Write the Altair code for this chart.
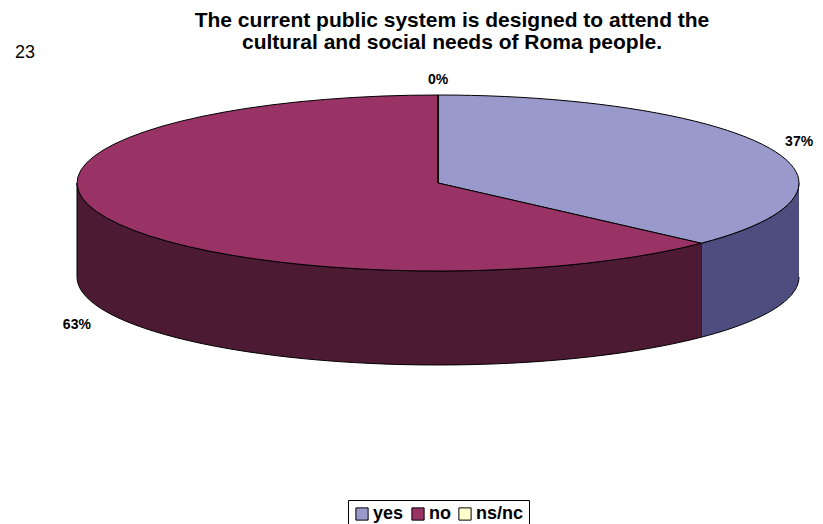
import altair as alt
import pandas as pd

# ---- data ----
categories = ["yes", "no", "ns/nc"]
values = [37, 63, 0]
top_colors = ["#9999CC", "#993366", "#FFFFCC"]
side_colors = ["#4D4D80", "#4D1A33", "#80806A"]

title_lines = ["The current public system is designed to attend the",
               "cultural and social needs of Roma people."]
page_number = "23"

df = pd.DataFrame({"category": categories, "value": values,
                   "idx": list(range(len(categories)))})

# ---- geometry of the pseudo-3D pie (pixel units of the plot area) ----
W, H = 807, 466
CX, CY, RX, RY, DEPTH = 430, 125, 361, 88, 94
FONT = "Liberation Sans"

xs = alt.Scale(domain=[0, W], nice=False, zero=False)
ys = alt.Scale(domain=[0, H], nice=False, zero=False, reverse=True)

base = (alt.Chart(df)
        .transform_joinaggregate(total="sum(value)")
        .transform_window(cum="sum(value)", sort=[alt.SortField("idx")], frame=[None, 0])
        .transform_calculate(f0="(datum.cum - datum.value) / datum.total",
                             f1="datum.cum / datum.total"))

# side walls (front half only)
side = (base
        .transform_calculate(s="max(datum.f0, 0.25)", e="min(datum.f1, 0.75)")
        .transform_filter("datum.s < datum.e")
        .transform_calculate(pts="sequence(0, 102)")
        .transform_flatten(["pts"], as_=["i"])
        .transform_calculate(
            fr="datum.i <= 50 ? datum.s + (datum.e - datum.s) * datum.i / 50 : datum.e - (datum.e - datum.s) * (datum.i - 51) / 50",
        )
        .transform_calculate(
            px=f"{CX} + {RX} * sin(2 * PI * datum.fr)",
            py=f"{CY} - {RY} * cos(2 * PI * datum.fr) + (datum.i <= 50 ? 0 : {DEPTH})",
        )
        .mark_line(stroke="black", strokeWidth=1, interpolate="linear")
        .encode(x=alt.X("px:Q", scale=xs, axis=None),
                y=alt.Y("py:Q", scale=ys, axis=None),
                fill=alt.Fill("category:N",
                              scale=alt.Scale(domain=categories, range=side_colors),
                              legend=None),
                detail="category:N",
                order=alt.Order("i:Q")))

# top face sectors
top = (base
       .transform_calculate(pts="sequence(0, 53)")
       .transform_flatten(["pts"], as_=["i"])
       .transform_calculate(
           fr="datum.f0 + (datum.f1 - datum.f0) * clamp(datum.i - 1, 0, 50) / 50",
           isc="datum.i == 0 || datum.i == 52")
       .transform_calculate(
           px=f"datum.isc ? {CX} : {CX} + {RX} * sin(2 * PI * datum.fr)",
           py=f"datum.isc ? {CY} : {CY} - {RY} * cos(2 * PI * datum.fr)")
       .mark_line(stroke="black", strokeWidth=1, interpolate="linear")
       .encode(x=alt.X("px:Q", scale=xs, axis=None),
               y=alt.Y("py:Q", scale=ys, axis=None),
               fill=alt.Fill("category:N",
                             scale=alt.Scale(domain=categories, range=top_colors),
                             legend=alt.Legend(title=None, orient="none",
                                               legendX=340, legendY=442,
                                               direction="horizontal",
                                               strokeColor="black", fillColor="white",
                                               padding=5, symbolType="square",
                                               symbolSize=150, symbolStrokeColor="black",
                                               symbolStrokeWidth=1, labelFont=FONT,
                                               labelFontSize=18, labelFontWeight="bold",
                                               labelColor="black", labelOffset=2,
                                               columnPadding=5)),
               detail="category:N",
               order=alt.Order("i:Q")))

# percentage labels
labels = (base
          .transform_calculate(mid="(datum.f0 + datum.f1) / 2",
                               pct="format(datum.value / datum.total, '.0%')")
          .transform_calculate(
              lx=f"{CX} + {RX} * 1.09 * sin(2 * PI * datum.mid)",
              ly=f"{CY} - {RY} * 1.17 * cos(2 * PI * datum.mid) + (cos(2 * PI * datum.mid) < 0 ? {DEPTH} * 1.08 : 0)")
          .mark_text(font=FONT, fontSize=14, fontWeight="bold", color="black",
                     align="center", baseline="middle")
          .encode(x=alt.X("lx:Q", scale=xs, axis=None),
                  y=alt.Y("ly:Q", scale=ys, axis=None),
                  text="pct:N"))

# title (two centred lines above the pie)
title_df = pd.DataFrame({"line": title_lines, "k": list(range(len(title_lines)))})
title = (alt.Chart(title_df)
         .transform_calculate(tx="444", ty="-37 + 22 * datum.k")
         .mark_text(font=FONT, fontSize=21, fontWeight="bold", color="black",
                    align="center", baseline="middle")
         .encode(x=alt.X("tx:Q", scale=xs, axis=None),
                 y=alt.Y("ty:Q", scale=ys, axis=None),
                 text="line:N"))

pagenum = (alt.Chart(pd.DataFrame({"t": [page_number]}))
           .mark_text(font=FONT, fontSize=18, color="black", align="center", baseline="middle")
           .encode(x=alt.value(17), y=alt.value(-5), text="t:N"))

chart = (alt.layer(side, top, labels, title, pagenum)
         .resolve_scale(fill="independent")
         .properties(width=W, height=H,
                     autosize=alt.AutoSizeParams(type="none"),
                     padding={"top": 50, "left": 0, "right": 0, "bottom": 0})
         .configure_view(stroke=None))

chart.save("out.html", embed_options={"renderer": "svg", "actions": False})
